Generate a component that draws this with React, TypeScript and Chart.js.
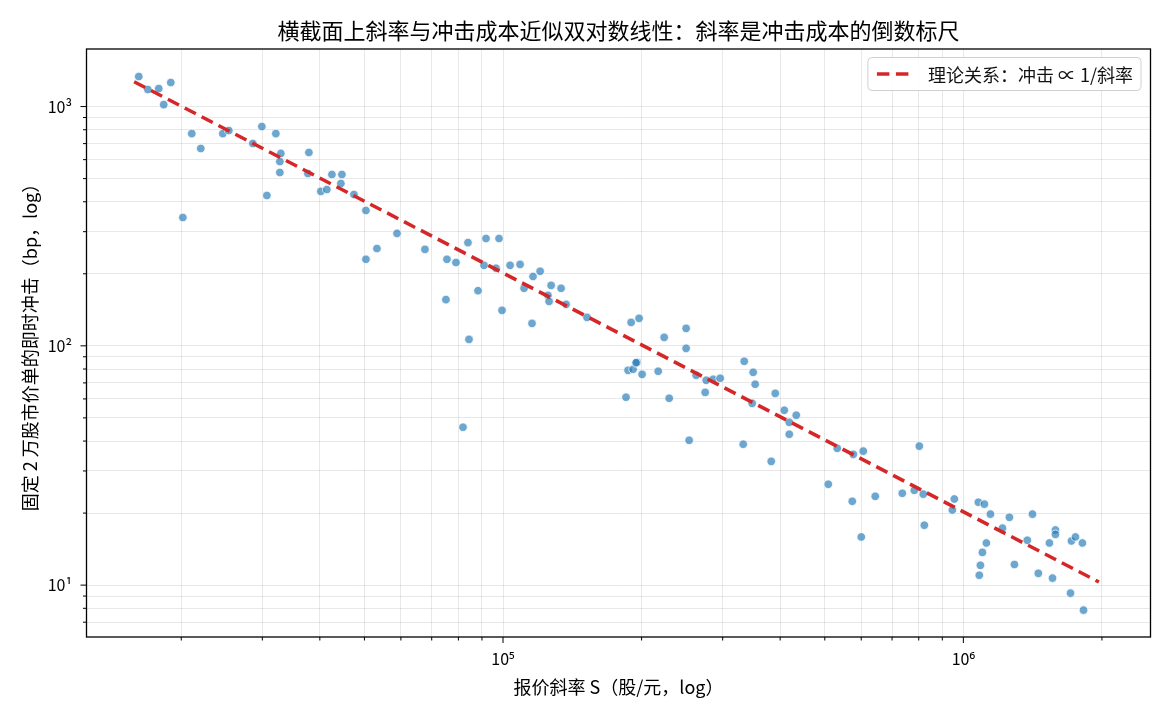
import React, { useEffect, useRef } from 'react';
import { Chart, registerables } from 'chart.js';

Chart.register(...registerables);

// ---- data ----
const slopeS = [
  16170, 16920, 17870, 18320, 18980, 20160, 21080, 22050, 24620, 25370,
  28610, 29930, 30690, 32100, 32910, 32750, 32750, 37870, 37680, 40200,
  41430, 42490, 44440, 44670, 47440, 50370, 50370, 53220, 58840, 67670,
  75540, 79020, 83920, 75160, 84350, 81850, 88240, 90930, 91840, 96560,
  98020, 99500, 103600, 108900, 111100, 116200, 115600, 120400, 125200, 125900,
  127200, 133700, 137100, 152200, 189800, 197500, 186900, 191700, 195500, 194500,
  200500, 185000, 217300, 223900, 229600, 249900, 249900, 253700, 262800, 276300,
  274900, 286100, 296300, 334200, 349500, 353000, 347700, 332500, 390300, 408300,
  418600, 418600, 433500, 382500, 508800, 532200, 573700, 576700, 606100, 643600,
  600100, 736800, 782500, 802300, 818500, 822700, 946500, 955900, 1078000, 1111000,
  1145000, 1083000, 1089000, 1100000, 1122000, 1216000, 1259000, 1291000, 1377000, 1413000,
  1455000, 1538000, 1562000, 1585000, 1585000, 1717000, 1752000, 1814000, 1709000, 1824000,
];

const impactBp = [
  1335, 1178, 1189, 1019, 1260, 344, 771, 668, 771, 794,
  701, 825, 425, 771, 637, 589, 530, 643, 525, 442,
  450, 520, 477, 520, 429, 368, 230, 255, 295, 253,
  230, 223, 270, 156, 106.4, 45.7, 170, 217, 281, 211,
  281, 140.7, 217, 219, 174, 195, 124.1, 205, 162.5, 153.4,
  178.9, 174, 149, 131.5, 125.3, 130.3, 79.0, 79.8, 85.3, 85.0,
  76.0, 61.0, 78.3, 108.5, 60.4, 118.3, 97.6, 40.3, 75.3, 71.8,
  63.9, 72.5, 73.2, 86.2, 77.5, 69.1, 57.5, 38.8, 63.3, 53.8,
  47.9, 42.7, 51.3, 32.9, 26.4, 37.3, 22.4, 35.2, 36.3, 23.5,
  15.9, 24.2, 24.9, 38.1, 24.0, 17.8, 20.6, 22.9, 22.2, 21.8,
  19.8, 11.0, 12.1, 13.7, 15.0, 17.3, 19.2, 12.2, 15.4, 19.8,
  11.2, 15.0, 10.7, 17.0, 16.3, 15.3, 15.9, 15.0, 9.26, 7.86,
];

const theoryS = [15800, 1970000];
const theoryImpact = [1270, 10.3];

const xTickValues = [
  20000, 30000, 40000, 50000, 60000, 70000, 80000, 90000, 100000,
  200000, 300000, 400000, 500000, 600000, 700000, 800000, 900000, 1000000, 2000000,
];
const xMajorValues = [100000, 1000000];
const xMajorLabels = ['10⁵', '10⁶'];

const yTickValues = [
  7, 8, 9, 10, 20, 30, 40, 50, 60, 70, 80, 90, 100,
  200, 300, 400, 500, 600, 700, 800, 900, 1000,
];
const yMajorValues = [10, 100, 1000];
const yMajorLabels = ['10¹', '10²', '10³'];

const TITLE = '横截面上斜率与冲击成本近似双对数线性：斜率是冲击成本的倒数标尺';
const X_TITLE = '报价斜率 S（股/元，log）';
const Y_TITLE = '固定 2 万股市价单的即时冲击（bp，log）';
const LEGEND_LABEL = '理论关系：冲击 ∝ 1/斜率';

const FONT = '"Noto Sans CJK SC", "Noto Sans", sans-serif';
const LINE_COLOR = '#d62728';
const LINE_DASH = [12.5, 6.5];

const frameTicksPlugin = {
  id: 'frameTicks',
  afterDraw(chart: any) {
    const { ctx, chartArea: a } = chart;
    const xs = chart.scales.x;
    const ys = chart.scales.y;
    ctx.save();
    ctx.strokeStyle = '#000';
    ctx.lineWidth = 1;
    xs.ticks.forEach((t: any) => {
      const px = xs.getPixelForValue(t.value);
      const len = xMajorValues.includes(t.value) ? 6 : 3.5;
      ctx.beginPath();
      ctx.moveTo(px, a.bottom);
      ctx.lineTo(px, a.bottom + len);
      ctx.stroke();
    });
    ys.ticks.forEach((t: any) => {
      const py = ys.getPixelForValue(t.value);
      const len = yMajorValues.includes(t.value) ? 6 : 3.5;
      ctx.beginPath();
      ctx.moveTo(a.left, py);
      ctx.lineTo(a.left - len, py);
      ctx.stroke();
    });
    ctx.lineWidth = 1.3;
    ctx.strokeRect(a.left, a.top, a.right - a.left, a.bottom - a.top);
    ctx.restore();
  },
};

const legendPlugin = {
  id: 'boxLegend',
  afterDraw(chart: any) {
    const { ctx, chartArea: a } = chart;
    ctx.save();
    ctx.font = `18px ${FONT}`;
    const tw = ctx.measureText(LEGEND_LABEL).width;
    const boxH = 33;
    const boxW = 60 + tw + 8;
    const bx = a.right - 9.5 - boxW;
    const by = a.top + 8.5;
    const r = 4;
    ctx.beginPath();
    ctx.moveTo(bx + r, by);
    ctx.lineTo(bx + boxW - r, by);
    ctx.quadraticCurveTo(bx + boxW, by, bx + boxW, by + r);
    ctx.lineTo(bx + boxW, by + boxH - r);
    ctx.quadraticCurveTo(bx + boxW, by + boxH, bx + boxW - r, by + boxH);
    ctx.lineTo(bx + r, by + boxH);
    ctx.quadraticCurveTo(bx, by + boxH, bx, by + boxH - r);
    ctx.lineTo(bx, by + r);
    ctx.quadraticCurveTo(bx, by, bx + r, by);
    ctx.closePath();
    ctx.fillStyle = 'rgba(255,255,255,0.85)';
    ctx.fill();
    ctx.strokeStyle = '#d0d0d0';
    ctx.lineWidth = 1;
    ctx.stroke();

    const cy = by + boxH / 2;
    ctx.beginPath();
    ctx.setLineDash(LINE_DASH);
    ctx.strokeStyle = LINE_COLOR;
    ctx.lineWidth = 3.5;
    ctx.moveTo(bx + 9, cy);
    ctx.lineTo(bx + 41, cy);
    ctx.stroke();
    ctx.setLineDash([]);

    ctx.fillStyle = '#111';
    ctx.textBaseline = 'middle';
    ctx.textAlign = 'left';
    ctx.fillText(LEGEND_LABEL, bx + 60, cy + 1);
    ctx.restore();
  },
};

export default function App() {
  const canvasRef = useRef<HTMLCanvasElement | null>(null);

  useEffect(() => {
    if (!canvasRef.current) return;
    const points = slopeS.map((s, i) => ({ x: s, y: impactBp[i] }));
    const theory = theoryS.map((s, i) => ({ x: s, y: theoryImpact[i] }));

    const chart = new Chart(canvasRef.current, {
      type: 'scatter',
      data: {
        datasets: [
          {
            type: 'line',
            label: LEGEND_LABEL,
            data: theory,
            borderColor: LINE_COLOR,
            borderWidth: 3.5,
            borderDash: LINE_DASH,
            pointRadius: 0,
            fill: false,
            order: 0,
          } as any,
          {
            type: 'scatter',
            label: 'points',
            data: points,
            backgroundColor: 'rgba(31,119,180,0.65)',
            borderColor: 'rgba(255,255,255,0.85)',
            borderWidth: 0.9,
            pointRadius: 4.3,
            order: 1,
          },
        ],
      },
      options: {
        responsive: false,
        animation: false,
        devicePixelRatio: 1,
        layout: { padding: { left: 0, right: 19.5, top: 0, bottom: 0 } },
        plugins: {
          legend: { display: false },
          tooltip: { enabled: false },
          title: {
            display: true,
            text: TITLE,
            fullSize: false,
            color: '#000',
            font: { family: FONT, size: 22, weight: 'normal' },
            padding: { top: 17.8, bottom: 4.8 },
          },
        },
        scales: {
          x: {
            type: 'logarithmic',
            position: 'bottom',
            min: 12450,
            max: 2550000,
            afterBuildTicks: (s: any) => {
              s.ticks = xTickValues.map((v) => ({ value: v }));
            },
            afterFit: (s: any) => {
              s.height = 78;
            },
            ticks: {
              autoSkip: false,
              maxRotation: 0,
              minRotation: 0,
              padding: 12.4,
              color: '#000',
              font: { family: FONT, size: 16 },
              callback: (v: any) => {
                const i = xMajorValues.indexOf(Number(v));
                return i >= 0 ? xMajorLabels[i] : '';
              },
            },
            grid: { color: 'rgba(0,0,0,0.09)', lineWidth: 1, drawTicks: false },
            border: { display: false },
            title: {
              display: true,
              text: X_TITLE,
              color: '#000',
              font: { family: FONT, size: 18 },
              padding: { top: 0, bottom: 17.2 },
            },
          },
          y: {
            type: 'logarithmic',
            position: 'left',
            min: 6.07,
            max: 1740,
            afterBuildTicks: (s: any) => {
              s.ticks = yTickValues.map((v) => ({ value: v }));
            },
            afterFit: (s: any) => {
              s.width = 86.5;
            },
            ticks: {
              autoSkip: false,
              padding: 14.5,
              color: '#000',
              font: { family: FONT, size: 16 },
              callback: (v: any) => {
                const i = yMajorValues.indexOf(Number(v));
                return i >= 0 ? yMajorLabels[i] : '';
              },
            },
            grid: { color: 'rgba(0,0,0,0.09)', lineWidth: 1, drawTicks: false },
            border: { display: false },
            title: {
              display: true,
              text: Y_TITLE,
              color: '#000',
              font: { family: FONT, size: 18 },
              padding: { top: 19.2, bottom: 0 },
            },
          },
        },
      },
      plugins: [frameTicksPlugin, legendPlugin],
    } as any);

    return () => chart.destroy();
  }, []);

  return (
    <div style={{ position: 'absolute', left: 0, top: 0, width: 1170, height: 715, background: '#fff' }}>
      <canvas ref={canvasRef} width={1170} height={715} style={{ display: 'block' }} />
    </div>
  );
}
